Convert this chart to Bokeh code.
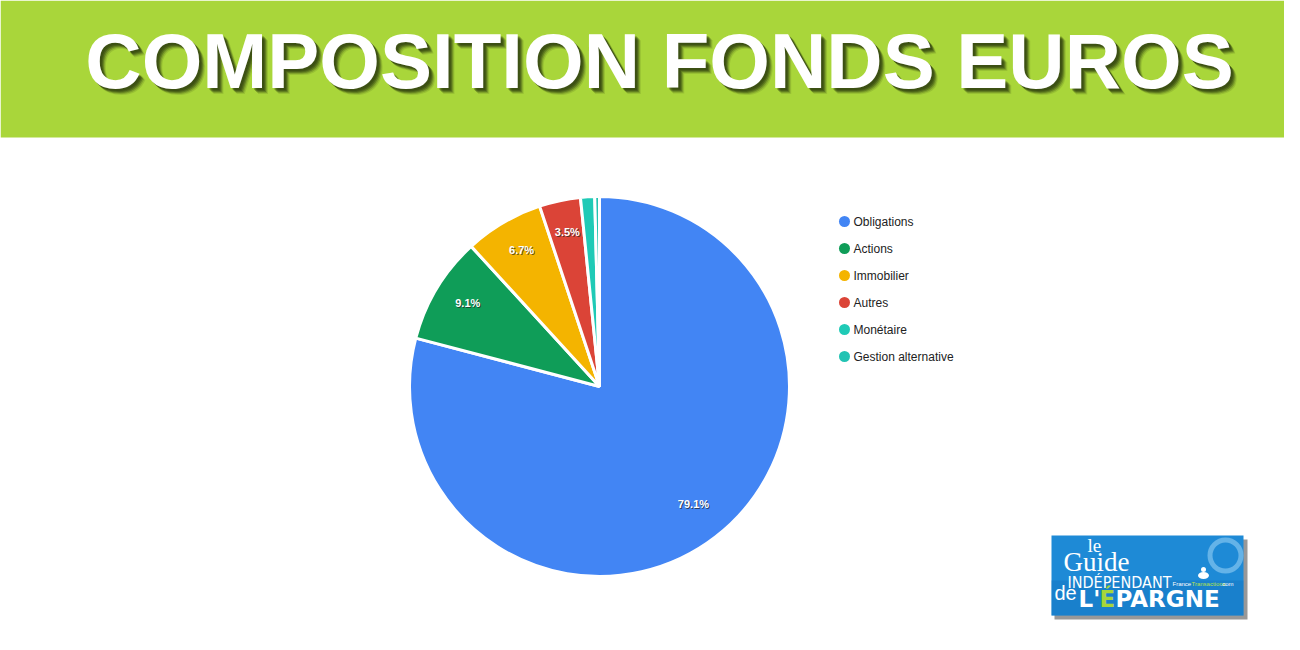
import math
from bokeh.plotting import figure
from bokeh.models import Range1d, ColumnDataSource
from bokeh.core.properties import value
from bokeh.embed import file_html
from bokeh.resources import INLINE

# ---- data ----
categories = ["Obligations", "Actions", "Immobilier", "Autres", "Monétaire", "Gestion alternative"]
shares = [79.1, 9.1, 6.7, 3.5, 1.2, 0.4]
colors = ["#4285f4", "#0f9d58", "#f4b400", "#db4437", "#1fcab6", "#22c3b3"]
title_text = "COMPOSITION FONDS EUROS"

W, H = 1284, 634
p = figure(width=W, height=H, output_backend="svg", toolbar_location=None,
           x_range=Range1d(0, W), y_range=Range1d(0, H), min_border=0)
p.axis.visible = False
p.grid.visible = False
p.outline_line_color = None
p.background_fill_color = "white"

# helper: reference pixel -> data
def X(px):
    return px
def Y(py):
    return H - py

def txt(x, y, s, size, color="white", font="Liberation Sans", style="normal", align="left", alpha=1.0):
    p.text(x=[X(x)], y=[Y(y)], text=[s], text_font=value(font), text_font_style=style,
           text_font_size=size, text_color=color, text_alpha=alpha,
           text_align=align, text_baseline="middle")

# ---- title band ----
p.quad(left=[0], right=[W], bottom=[Y(137)], top=[H], fill_color="#a9d63a", line_color=None)
for d, a in [(6, 0.12), (5, 0.2), (4, 0.3), (3, 0.35), (2, 0.3)]:
    txt(659 + d, 60 + d, title_text, "78px", color="#1f2a0a", style="bold", align="center", alpha=a)
txt(659, 60, title_text, "78px", style="bold", align="center")

# ---- pie ----
cx, cy, R = X(599), Y(386), 190
total = sum(shares)
starts, ends, lx, ly, labels = [], [], [], [], []
cum = 0.0
for s in shares:
    a0 = math.pi / 2 - 2 * math.pi * cum / total
    cum += s
    a1 = math.pi / 2 - 2 * math.pi * cum / total
    starts.append(a0)
    ends.append(a1)
    mid = (a0 + a1) / 2
    if s >= 2:
        lx.append(cx + 0.81 * R * math.cos(mid))
        ly.append(cy + 0.81 * R * math.sin(mid) + 4)
        labels.append(f"{s:.1f}%")

src = ColumnDataSource(dict(start=starts, end=ends, color=colors))
p.wedge(x=cx, y=cy, radius=R, start_angle="start", end_angle="end", direction="clock",
        fill_color="color", line_color="white", line_width=3, source=src)

p.text(x=[v + 1 for v in lx], y=[v - 1 for v in ly], text=labels, text_font=value("Liberation Sans"),
       text_font_style="bold", text_font_size="11px", text_color="#222222", text_alpha=0.7,
       text_align="center", text_baseline="middle")
p.text(x=lx, y=ly, text=labels, text_font=value("Liberation Sans"),
       text_font_style="bold", text_font_size="11px", text_color="white",
       text_align="center", text_baseline="middle")

# ---- legend ----
leg_y = [Y(221 + 27 * i) for i in range(len(categories))]
p.scatter(x=[X(844)] * len(categories), y=leg_y, size=11, marker="circle",
          fill_color=colors, line_color=None)
p.text(x=[X(853)] * len(categories), y=leg_y, text=categories, text_font=value("Liberation Sans"),
       text_font_size="12px", text_color="#222222", text_align="left", text_baseline="middle")

# ---- logo ----
p.quad(left=[X(1054)], right=[X(1247)], bottom=[Y(619)], top=[Y(539)], fill_color="#444444",
       fill_alpha=0.55, line_color=None)
p.quad(left=[X(1051)], right=[X(1243)], bottom=[Y(615)], top=[Y(535)], fill_color="#1e8ad6",
       line_color=None)
p.quad(left=[X(1051)], right=[X(1243)], bottom=[Y(615)], top=[Y(580)], fill_color="#1574c0",
       fill_alpha=0.45, line_color=None)
p.ellipse(x=[X(1225)], y=[Y(555)], width=31, height=31, fill_color=None, line_color="#7cc0ee",
          line_width=5, line_alpha=0.75)
txt(1087, 545, "le", "19px", font="Liberation Serif")
txt(1063, 561, "Guide", "27px", font="Liberation Serif")
txt(1067, 582, "INDÉPENDANT", "16px", font="DejaVu Sans Condensed")
p.ellipse(x=[X(1203)], y=[Y(575)], width=11, height=7, fill_color="white", line_color=None)
p.ellipse(x=[X(1203)], y=[Y(569)], width=5, height=5, fill_color="white", line_color=None)
txt(1172, 583, "France", "6px", color="white")
txt(1191, 583, "Transactions", "6px", color="#b8e04a")
txt(1220, 583, ".com", "6px", color="white")
txt(1054, 592, "de", "20px")
txt(1078, 598, "L'", "23px", font="DejaVu Sans", style="bold")
txt(1099, 598, "É", "23px", font="DejaVu Sans", style="bold", color="#a6d63a")
txt(1115, 598, "PARGNE", "23px", font="DejaVu Sans", style="bold")

open("out.html", "w").write(file_html(p, INLINE))
